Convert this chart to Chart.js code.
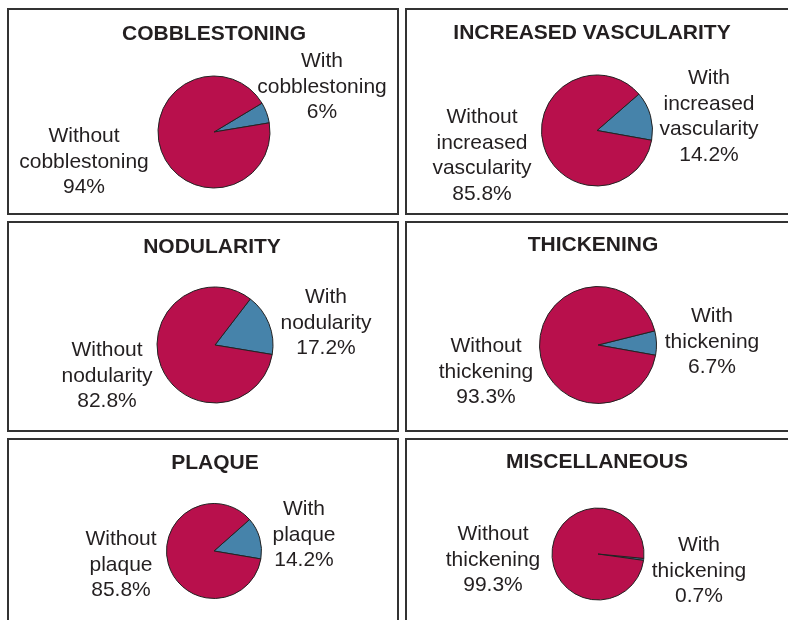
<!DOCTYPE html>
<html>
<head>
<meta charset="utf-8">
<script src="https://cdn.jsdelivr.net/npm/chart.js@4.4.1/dist/chart.umd.min.js"></script>
<style>
  html, body { margin: 0; padding: 0; background: #fff; overflow: hidden; }
  #wrap { position: relative; width: 788px; height: 620px; overflow: hidden; }
  .panel { position: absolute; box-sizing: border-box; border: 2px solid #333; }
  canvas { position: absolute; }
</style>
</head>
<body>
<div id="wrap"></div>
<script>
// data
const titles = ['COBBLESTONING', 'INCREASED VASCULARITY', 'NODULARITY', 'THICKENING', 'PLAQUE', 'MISCELLANEOUS'];
const withLabels = [['With', 'cobblestoning'], ['With', 'increased', 'vascularity'], ['With', 'nodularity'], ['With', 'thickening'], ['With', 'plaque'], ['With', 'thickening']];
const withoutLabels = [['Without', 'cobblestoning'], ['Without', 'increased', 'vascularity'], ['Without', 'nodularity'], ['Without', 'thickening'], ['Without', 'plaque'], ['Without', 'thickening']];
const withValues = [6, 14.2, 17.2, 6.7, 14.2, 0.7];
const withoutValues = [94, 85.8, 82.8, 93.3, 85.8, 99.3];

// layout (page pixels)
const panels = [
    { x: 7, y: 8, w: 392, h: 207 },
    { x: 405, y: 8, w: 400, h: 207 },
    { x: 7, y: 221, w: 392, h: 211 },
    { x: 405, y: 221, w: 400, h: 211 },
    { x: 7, y: 438, w: 392, h: 200 },
    { x: 405, y: 438, w: 400, h: 200 }
];
const pies = [
    { cx: 214, cy: 132, r: 56, rot: 59 },
    { cx: 597, cy: 130.5, r: 55.5, rot: 49 },
    { cx: 215, cy: 345, r: 58, rot: 37.5 },
    { cx: 598, cy: 345, r: 58.5, rot: 76 },
    { cx: 214, cy: 551, r: 47.5, rot: 48.5 },
    { cx: 598, cy: 554, r: 46, rot: 95.5 }
];
const titlePos = [[214, 40], [592, 39], [212, 253], [593, 251], [215, 469], [597, 468]];
const withPos = [[322, 67], [709, 84], [326, 303], [712, 322], [304, 515], [699, 551]];
const withoutPos = [[84, 142], [482, 123], [107, 356], [486, 352], [121, 545], [493, 540]];

const LINE_H = 25.5;
const TEXT = '#231f20';
const CRIMSON = '#b8104c';
const BLUE = '#4683aa';

const wrap = document.getElementById('wrap');

function drawBlock(ctx, lines, x, y) {
    lines.forEach((line, k) => ctx.fillText(line, x, y + k * LINE_H));
}

panels.forEach((p, i) => {
    const box = document.createElement('div');
    box.className = 'panel';
    Object.assign(box.style, { left: p.x + 'px', top: p.y + 'px', width: p.w + 'px', height: p.h + 'px' });
    wrap.appendChild(box);

    const canvas = document.createElement('canvas');
    canvas.width = p.w;
    canvas.height = p.h;
    Object.assign(canvas.style, { left: p.x + 'px', top: p.y + 'px', width: p.w + 'px', height: p.h + 'px' });
    wrap.appendChild(canvas);

    const pie = pies[i];
    const lx = pie.cx - p.x;
    const ly = pie.cy - p.y;
    const s = pie.r + 2;

    const textPlugin = {
        id: 'panelText',
        afterDraw(chart) {
            const ctx = chart.ctx;
            ctx.save();
            ctx.fillStyle = TEXT;
            ctx.textAlign = 'center';
            ctx.textBaseline = 'alphabetic';
            ctx.font = 'bold 21px "Liberation Sans", Arial, sans-serif';
            ctx.fillText(titles[i], titlePos[i][0] - p.x, titlePos[i][1] - p.y);
            ctx.font = '21px "Liberation Sans", Arial, sans-serif';
            drawBlock(ctx, [...withLabels[i], withValues[i] + '%'], withPos[i][0] - p.x, withPos[i][1] - p.y);
            drawBlock(ctx, [...withoutLabels[i], withoutValues[i] + '%'], withoutPos[i][0] - p.x, withoutPos[i][1] - p.y);
            ctx.restore();
        }
    };

    new Chart(canvas.getContext('2d'), {
        type: 'pie',
        data: {
            labels: ['With', 'Without'],
            datasets: [{
                data: [withValues[i], withoutValues[i]],
                backgroundColor: [BLUE, CRIMSON],
                borderColor: '#222',
                borderWidth: 1,
                radius: pie.r
            }]
        },
        options: {
            responsive: false,
            animation: false,
            rotation: pie.rot,
            layout: {
                padding: { left: lx - s, right: p.w - lx - s, top: ly - s, bottom: p.h - ly - s }
            },
            plugins: {
                legend: { display: false },
                tooltip: { enabled: false },
                title: { display: false }
            }
        },
        plugins: [textPlugin]
    });
});
</script>
</body>
</html>
